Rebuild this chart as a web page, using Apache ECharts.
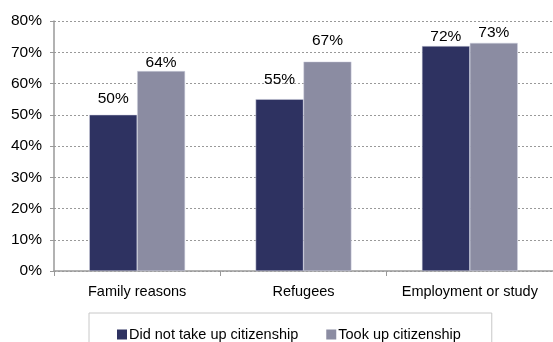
<!DOCTYPE html>
<html>
<head>
<meta charset="utf-8">
<script src="https://cdn.jsdelivr.net/npm/echarts@6/dist/echarts.min.js"></script>
<style>
html, body { margin: 0; padding: 0; background: #fff; }
#chart { width: 553px; height: 342px; }
</style>
</head>
<body>
<div id="chart"></div>
<script>
// Share of migrants by reason of arrival, split by citizenship take-up
const categories = ['Family reasons', 'Refugees', 'Employment or study'];
const notTookUp = [50, 55, 72];
const tookUp = [64, 67, 73];
const seriesNames = ['Did not take up citizenship', 'Took up citizenship'];
const yTicks = [0, 10, 20, 30, 40, 50, 60, 70, 80];

// hand-placed gaps between each value label and its bar
const labelGapA = [8, 11, 1];
const labelGapB = [0, 13, 2];

const font = 'Liberation Sans, Arial, sans-serif';
const chart = echarts.init(document.getElementById('chart'), null, { renderer: 'canvas' });

function labelled(values, gaps) {
  return values.map((v, i) => ({
    value: v,
    label: {
      show: true,
      position: 'top',
      distance: gaps[i],
      formatter: p => p.value + '%',
      color: '#000',
      fontFamily: font,
      fontSize: 15.5
    }
  }));
}

chart.setOption({
  animation: false,
  grid: { left: 54, right: 0, top: 21, bottom: 71 },
  legend: {
    data: seriesNames,
    left: 89,
    top: 313,
    padding: [14, 31, 20, 28],
    borderColor: '#c8c8c8',
    borderWidth: 1,
    icon: 'rect',
    itemWidth: 10,
    itemHeight: 10,
    itemGap: 28,
    itemStyle: { borderWidth: 0 },
    textStyle: { fontFamily: font, fontSize: 14.5, color: '#000', padding: [0, 0, 0, -3] }
  },
  xAxis: {
    type: 'category',
    data: categories,
    axisLine: { lineStyle: { color: '#999', width: 1.5 } },
    axisTick: { show: true, length: 5, lineStyle: { color: '#999' } },
    axisLabel: { interval: 0, fontFamily: font, fontSize: 14.5, color: '#000', margin: 13 }
  },
  yAxis: {
    type: 'value',
    min: 0,
    max: 80,
    interval: 10,
    axisLine: { show: true, lineStyle: { color: '#999', width: 1.5 } },
    axisTick: { show: true, length: 4, lineStyle: { color: '#999' } },
    axisLabel: {
      fontFamily: font, fontSize: 15.5, color: '#000', margin: 12,
      formatter: v => (yTicks.includes(v) ? v + '%' : '')
    },
    splitLine: { lineStyle: { color: '#999', type: [2, 2], width: 1 } }
  },
  series: [
    {
      name: seriesNames[0],
      type: 'bar',
      data: labelled(notTookUp, labelGapA),
      barGap: '0%',
      barCategoryGap: '42.4%',
      itemStyle: { color: '#2e3261', borderColor: '#d0d2e0', borderWidth: 0.5 }
    },
    {
      name: seriesNames[1],
      type: 'bar',
      data: labelled(tookUp, labelGapB),
      itemStyle: { color: '#8b8ca2', borderColor: '#d0d2e0', borderWidth: 0.5 }
    }
  ]
});
</script>
</body>
</html>
